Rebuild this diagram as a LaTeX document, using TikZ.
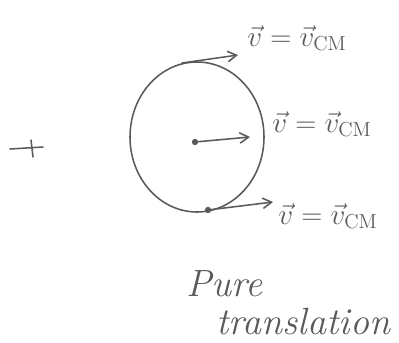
\documentclass[tikz,border=0pt]{standalone}
\usepackage{amsmath,amssymb}
\usepackage{xcolor}
\usepackage{tikz}
\usetikzlibrary{arrows.meta,positioning}
\definecolor{ptPencil}{HTML}{5A5A5A}
\definecolor{ptPaper}{HTML}{FFFFFF}
\tikzset{
  pt diagram/.style={x=0.025cm, y=-0.025cm, text=ptPencil,
    line cap=round, line join=round},
  pt wheel/.style={draw=ptPencil, line width=1.1pt},
  pt arrow/.style={-{Straight Barb[length=2.2mm,width=2.6mm]}, draw=ptPencil, line width=1.1pt},
  pt dot/.style={circle, fill=ptPencil, inner sep=0pt, minimum size=4.5pt},
  pt label/.style={font=\huge, inner sep=0pt},
  pt title/.style={font=\fontsize{27}{27}\selectfont\itshape, align=left, inner sep=0pt}
}
\newcommand{\vcm}{$\vec{v}=\vec{v}_{\mathrm{CM}}$}

\begin{document}
\begin{tikzpicture}[pt diagram]
\useasboundingbox[fill=ptPaper] (0,0) rectangle (399,342);
% wheel
\draw[pt wheel] (197,137) ellipse [x radius=67, y radius=75];
\node[pt dot] (cm) at (195,142) {};
\node[pt dot] (contact) at (208,210) {};
\coordinate (rim) at (182,63);
% velocity tips
\coordinate (cm tip) at (250,137);
\coordinate (rim tip) at (238,55);
\coordinate (contact tip) at (273,202);
\draw[pt arrow] (cm) -- (cm tip);
\draw[pt arrow] (rim) -- (rim tip);
\draw[pt arrow] (contact) -- (contact tip);
% labels
\node[pt label] (rim lab) at (297,38) {\vcm};
\node[pt label] (cm lab) at (322,124) {\vcm};
\node[pt label] (contact lab) at (328,216) {\vcm};
% axis mark
\draw[pt wheel] (10,149) -- (43,147);
\draw[pt wheel] (31,140) -- (33,157);
\node[pt title, anchor=north west] (title) at (186,270) {Pure\\[0pt]\hspace*{0.8em}translation};
\end{tikzpicture}
\end{document}
